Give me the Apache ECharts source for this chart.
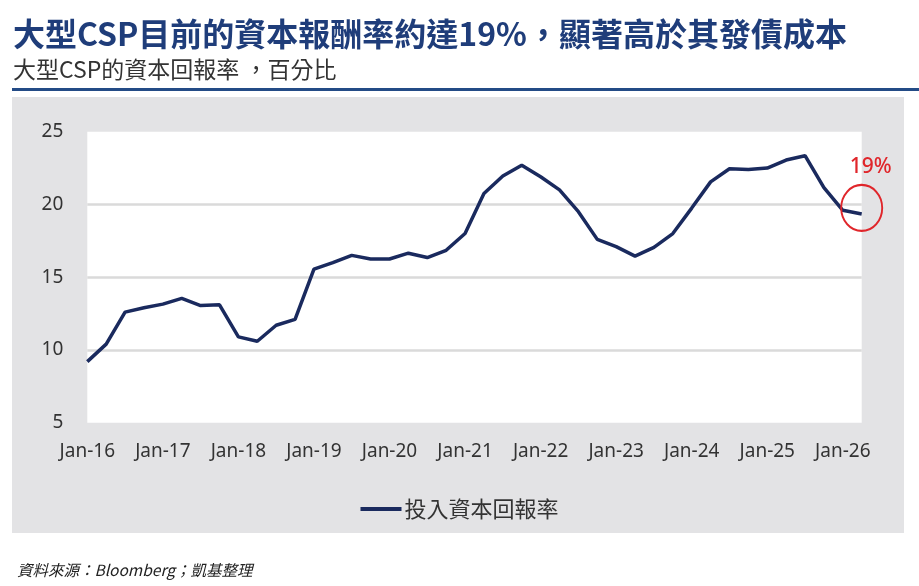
<!DOCTYPE html>
<html>
<head>
<meta charset="utf-8">
<script src="https://cdn.jsdelivr.net/npm/echarts@6/dist/echarts.min.js"></script>
<style>
html,body{margin:0;padding:0;background:#fff;}
#c{width:919px;height:586px;}
</style>
</head>
<body>
<div id="c"></div>
<script>
const categories = [
  'Jan-16','Apr-16','Jul-16','Oct-16',
  'Jan-17','Apr-17','Jul-17','Oct-17',
  'Jan-18','Apr-18','Jul-18','Oct-18',
  'Jan-19','Apr-19','Jul-19','Oct-19',
  'Jan-20','Apr-20','Jul-20','Oct-20',
  'Jan-21','Apr-21','Jul-21','Oct-21',
  'Jan-22','Apr-22','Jul-22','Oct-22',
  'Jan-23','Apr-23','Jul-23','Oct-23',
  'Jan-24','Apr-24','Jul-24','Oct-24',
  'Jan-25','Apr-25','Jul-25','Oct-25',
  'Jan-26','Apr-26'
];
const roicValues = [
  9.2, 10.4, 12.6, 12.9,
  13.15, 13.55, 13.05, 13.1,
  10.9, 10.6, 11.7, 12.1,
  15.55, 16.0, 16.5, 16.25,
  16.25, 16.65, 16.35, 16.85,
  18.0, 20.75, 21.95, 22.7,
  21.9, 21.0, 19.5, 17.6,
  17.1, 16.45, 17.05, 18.0,
  19.75, 21.55, 22.45, 22.4,
  22.5, 23.05, 23.35, 21.15,
  19.6, 19.35
];
const seriesName = '投入資本回報率';
const yTicks = [5, 10, 15, 20, 25];
const titleText = '大型CSP目前的資本報酬率約達19%，顯著高於其發債成本';
const subtitleText = '大型CSP的資本回報率 ，百分比';
const sourceText = '資料來源：Bloomberg；凱基整理';
const calloutText = '19%';

const cjk = '"Noto Sans CJK TC", "Noto Sans", sans-serif';
const lat = '"Noto Sans", "Open Sans", sans-serif';

const chart = echarts.init(document.getElementById('c'), null, {renderer: 'canvas'});
const lastIdx = roicValues.length - 1;

chart.setOption({
  animation: false,
  backgroundColor: '#ffffff',
  graphic: [
    {type: 'rect', z: -10, shape: {x: 12, y: 97, width: 892, height: 436}, style: {fill: '#e3e3e5'}},
    {type: 'rect', z: -10, shape: {x: 12, y: 88, width: 907, height: 3}, style: {fill: '#234b86'}}
  ],
  title: [
    {text: titleText, left: 8, top: 13,
     textStyle: {fontFamily: cjk, fontSize: 32, fontWeight: 'bold', color: '#1f3d7a', lineHeight: 32}},
    {text: subtitleText, left: 8, top: 52,
     textStyle: {fontFamily: cjk, fontSize: 23, fontWeight: 'normal', color: '#333333', lineHeight: 24}},
    {text: sourceText, left: 12, top: 556,
     textStyle: {fontFamily: cjk, fontSize: 15.5, fontStyle: 'italic', fontWeight: 'normal', color: '#222222', lineHeight: 18}}
  ],
  legend: {
    data: [seriesName],
    left: 'center',
    top: 493,
    icon: 'rect',
    itemWidth: 41,
    itemHeight: 4,
    itemGap: 10,
    textStyle: {fontFamily: cjk, fontSize: 22, color: '#333333', padding: [0, 0, 0, -2]}
  },
  grid: {
    left: 87.3, right: 57.3, top: 131.7, bottom: 163.3,
    show: true, backgroundColor: '#ffffff', borderWidth: 0
  },
  xAxis: {
    type: 'category',
    data: categories,
    boundaryGap: false,
    axisLine: {show: false},
    axisTick: {show: false},
    splitLine: {show: false},
    axisLabel: {interval: 3, margin: 19, fontFamily: lat, fontSize: 19, color: '#333333'}
  },
  yAxis: {
    type: 'value',
    min: yTicks[0],
    max: yTicks[yTicks.length - 1],
    interval: 5,
    axisLine: {show: false},
    axisTick: {show: false},
    axisLabel: {margin: 24, fontFamily: lat, fontSize: 19, color: '#333333'},
    splitLine: {show: true, showMinLine: false, showMaxLine: false, lineStyle: {color: '#dadada', width: 2.5}}
  },
  series: [{
    name: seriesName,
    type: 'line',
    data: roicValues,
    symbol: 'none',
    smooth: false,
    lineStyle: {color: '#1a2a5e', width: 3.5},
    itemStyle: {color: '#1a2a5e'},
    markPoint: {
      silent: true,
      data: [{
        coord: [categories[lastIdx], roicValues[lastIdx]],
        symbol: 'circle',
        symbolSize: [41, 46],
        symbolOffset: [0, -6],
        itemStyle: {color: 'rgba(0,0,0,0)', borderColor: '#e0262b', borderWidth: 2},
        label: {show: true, position: 'top', distance: 6, offset: [9, 0], formatter: calloutText,
                fontFamily: lat, fontSize: 21, fontWeight: 500, color: '#e0262b'}
      }]
    }
  }]
});
</script>
</body>
</html>
